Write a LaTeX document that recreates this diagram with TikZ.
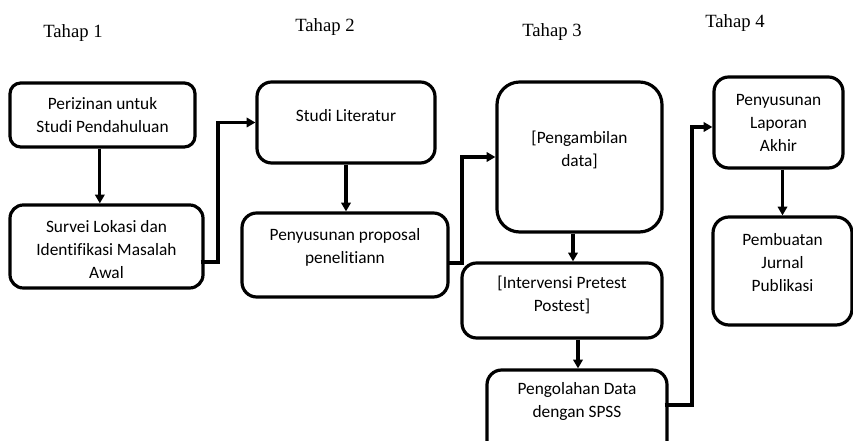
\documentclass[tikz,border=0pt]{standalone}
\usepackage{fontspec}
\setmainfont{Carlito}[Ligatures={NoCommon}]
\newfontfamily\tahapfont{Liberation Serif}
\usetikzlibrary{arrows.meta}
\tikzset{
  box/.style={draw, line width=2.4pt, rounded corners=#1, inner sep=0pt},
  box/.default=10pt,
  txt/.style={align=center, font=\fontsize{13}{17.25}\selectfont, inner sep=0pt},
  tahap/.style={font=\tahapfont\fontsize{14}{16}\selectfont, inner sep=0pt},
  arr/.style={line width=2.3pt, -{Triangle[length=6.5pt,width=7pt]}},
}
\begin{document}
\begin{tikzpicture}[x=0.75pt,y=-0.75pt]
\useasboundingbox (0,0) rectangle (853,441);
\clip (0,0) rectangle (853,441);
% stage titles
\node[tahap] (t1) at (73,33) {Tahap 1};
\node[tahap] (t2) at (325,27) {Tahap 2};
\node[tahap] (t3) at (552,32) {Tahap 3};
\node[tahap] (t4) at (735,23) {Tahap 4};
% boxes
\node[box=8pt, minimum width=138.75pt, minimum height=48pt,
  label={[txt]center:{Perizinan untuk\\Studi Pendahuluan}}] (A) at (102.5,115) {};
\node[box=10pt, minimum width=144.75pt, minimum height=62.25pt,
  label={[txt,yshift=-2.5pt]center:{Survei Lokasi dan\\Identifikasi Masalah\\Awal}}] (B) at (106.5,246.5) {};
\node[box=11pt, minimum width=133.5pt, minimum height=60.75pt,
  label={[txt,yshift=5.5pt]center:{Studi Literatur}}] (C) at (346,122.5) {};
\node[box=11pt, minimum width=154.5pt, minimum height=63pt,
  label={[txt,yshift=5.5pt]center:{Penyusunan proposal\\penelitiann}}] (D) at (345,255) {};
\node[box=17pt, minimum width=123.75pt, minimum height=112.5pt,
  label={[txt,yshift=5.5pt]center:{[Pengambilan\\data]}}] (E) at (579.5,157) {};
\node[box=11pt, minimum width=150pt, minimum height=56.25pt,
  label={[txt,yshift=4pt]center:{[Intervensi Pretest\\Postest]}}] (F) at (562,300.5) {};
\node[box=11pt, minimum width=135pt, minimum height=67.5pt,
  label={[txt,yshift=10pt]center:{Pengolahan Data\\dengan SPSS}}] (G) at (577,415) {};
\node[box=11pt, minimum width=96.75pt, minimum height=68.25pt,
  label={[txt]center:{Penyusunan\\Laporan\\Akhir}}] (H) at (778.5,122.5) {};
\node[box=12pt, minimum width=104.25pt, minimum height=81pt,
  label={[txt,yshift=6pt]center:{Pembuatan\\Jurnal\\Publikasi}}] (I) at (782.5,271) {};
% connectors
\draw[arr] ([xshift=-2pt]A.south) -- ([xshift=-2pt]A.south |- B.north);
\coordinate (bc) at (218,262);
\draw[arr] ([xshift=-3pt]B.east |- bc) -- (bc) |- (C.west);
\draw[arr] (C.south) -- (C.south |- D.north);
\coordinate (de) at (462,263);
\draw[arr] ([xshift=-2pt]D.east |- de) -- (de) |- (E.west);
\coordinate (ef) at (573,232);
\draw[arr] (ef |- E.south) -- (ef |- F.north);
\coordinate (fg) at (578,338);
\draw[arr] (fg |- F.south) -- (fg |- G.north);
\coordinate (gh) at (692,405);
\coordinate (gh2) at (692,127);
\draw[arr] ([xshift=-3pt]G.east |- gh) -- (gh) -- (gh2) -- (H.west |- gh2);
\draw[arr] ([xshift=3pt]H.south) -- ([xshift=3pt]H.south |- I.north);
\end{tikzpicture}
\end{document}
